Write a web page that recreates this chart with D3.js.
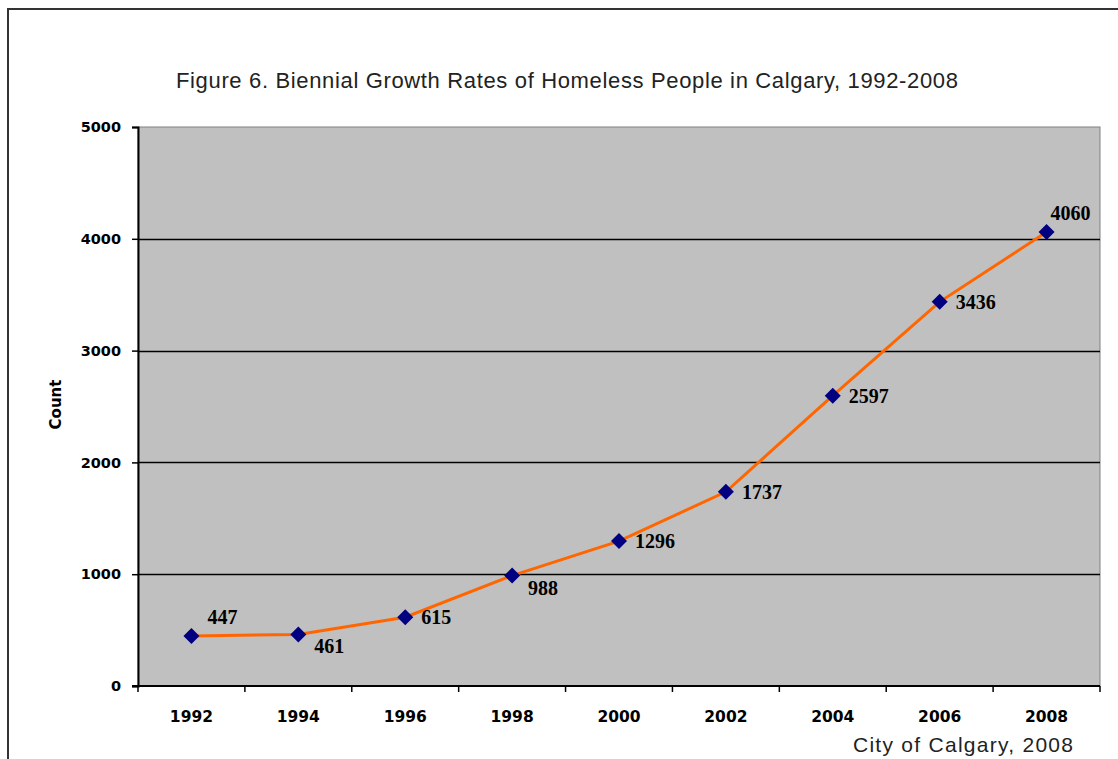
<!DOCTYPE html>
<html>
<head>
<meta charset="utf-8">
<script src="https://cdn.jsdelivr.net/npm/d3@7"></script>
<style>
  html, body { margin: 0; padding: 0; background: #fff; }
  svg { display: block; }
</style>
</head>
<body>
<svg id="chart" width="1118" height="759"></svg>
<script>
// Homeless counts in Calgary, every two years
const years = ["1992", "1994", "1996", "1998", "2000", "2002", "2004", "2006", "2008"];
const counts = [447, 461, 615, 988, 1296, 1737, 2597, 3436, 4060];
const yTicks = [0, 1000, 2000, 3000, 4000, 5000];
// label placement per point: "above" sits up and to the right, others sit right/below
const labelPos = ["above", "below", "right", "below", "right", "right", "right", "right", "above"];

const svg = d3.select("#chart");
const W = 1118, H = 759;
const plot = { left: 138, top: 127, right: 1100, bottom: 686 };
const axisFont = "DejaVu Sans, Verdana, sans-serif";

// outer frame
svg.append("rect")
  .attr("x", 8).attr("y", 9)
  .attr("width", W + 20).attr("height", H + 20)
  .attr("fill", "#fff")
  .attr("stroke", "#333").attr("stroke-width", 2);

const x = d3.scaleBand().domain(years).range([plot.left, plot.right]).padding(0);
const y = d3.scaleLinear().domain([0, 5000]).range([plot.bottom, plot.top]);

// plot background
svg.append("rect")
  .attr("x", plot.left).attr("y", plot.top)
  .attr("width", plot.right - plot.left).attr("height", plot.bottom - plot.top)
  .attr("fill", "#c0c0c0")
  .attr("stroke", "#808080").attr("stroke-width", 1);

// horizontal gridlines
svg.append("g").selectAll("line")
  .data(yTicks.filter(d => d > 0 && d < 5000))
  .join("line")
  .attr("x1", plot.left).attr("x2", plot.right)
  .attr("y1", d => Math.round(y(d)) + 0.5).attr("y2", d => Math.round(y(d)) + 0.5)
  .attr("stroke", "#000").attr("stroke-width", 1.3);

// y axis
const yAxis = svg.append("g")
  .attr("transform", `translate(${plot.left},0)`)
  .call(d3.axisLeft(y).tickValues(yTicks).tickSize(6).tickPadding(11).tickFormat(d3.format("d")));
yAxis.select(".domain").attr("stroke", "#000").attr("stroke-width", 2);
yAxis.selectAll(".tick line").attr("stroke", "#000").attr("stroke-width", 1.5);
yAxis.selectAll("text")
  .attr("font-family", axisFont)
  .attr("font-weight", "bold").attr("font-size", 14.5).attr("fill", "#000");

// x axis: ticks at category boundaries, labels centred in each band
const xg = svg.append("g").attr("transform", `translate(0,${plot.bottom})`);
xg.append("line")
  .attr("x1", plot.left - 6).attr("x2", plot.right)
  .attr("y1", 0).attr("y2", 0)
  .attr("stroke", "#000").attr("stroke-width", 2);
const bounds = years.map(d => x(d)).concat([plot.right]);
xg.selectAll("line.tk").data(bounds).join("line")
  .attr("class", "tk")
  .attr("x1", d => d).attr("x2", d => d)
  .attr("y1", 0).attr("y2", 6)
  .attr("stroke", "#000").attr("stroke-width", 1.5);
xg.selectAll("text").data(years).join("text")
  .attr("x", d => x(d) + x.bandwidth() / 2)
  .attr("y", 36)
  .attr("text-anchor", "middle")
  .attr("font-family", axisFont)
  .attr("font-weight", "bold").attr("font-size", 15.5).attr("fill", "#000")
  .text(d => d);

// line
const cx = (d, i) => x(years[i]) + x.bandwidth() / 2;
const line = d3.line().x((d, i) => cx(d, i)).y(d => y(d));
svg.append("path")
  .datum(counts)
  .attr("d", line)
  .attr("fill", "none")
  .attr("stroke", "#ff6600").attr("stroke-width", 3);

// diamond markers
svg.append("g").selectAll("path")
  .data(counts)
  .join("path")
  .attr("transform", (d, i) => `translate(${cx(d, i)},${y(d)})`)
  .attr("d", "M0,-8L8,0L0,8L-8,0Z")
  .attr("fill", "#000080");

// value labels
svg.append("g").selectAll("text")
  .data(counts)
  .join("text")
  .attr("x", (d, i) => cx(d, i) + (labelPos[i] === "above" ? (i === 0 ? 16 : 4) : 16))
  .attr("y", (d, i) => y(d) + (labelPos[i] === "above" ? -12 : labelPos[i] === "below" ? 19 : 7))
  .attr("font-family", "Liberation Serif, Times New Roman, serif")
  .attr("font-weight", "bold").attr("font-size", 20).attr("fill", "#000")
  .text(d => d);

// y axis title
svg.append("text")
  .attr("transform", `translate(61,${(plot.top + plot.bottom) / 2 - 2}) rotate(-90)`)
  .attr("text-anchor", "middle")
  .attr("font-family", axisFont)
  .attr("font-weight", "bold").attr("font-size", 15).attr("fill", "#000")
  .text("Count");

// chart title
svg.append("text")
  .attr("x", 176).attr("y", 88)
  .attr("textLength", 782).attr("lengthAdjust", "spacing")
  .attr("font-family", "Liberation Sans, Arial, sans-serif")
  .attr("font-size", 22).attr("fill", "#222")
  .text("Figure 6. Biennial Growth Rates of Homeless People in Calgary, 1992-2008");

// source note
svg.append("text")
  .attr("x", 853).attr("y", 752)
  .attr("textLength", 220).attr("lengthAdjust", "spacing")
  .attr("font-family", "Liberation Sans, Arial, sans-serif")
  .attr("font-size", 21).attr("fill", "#222")
  .text("City of Calgary, 2008");
</script>
</body>
</html>
